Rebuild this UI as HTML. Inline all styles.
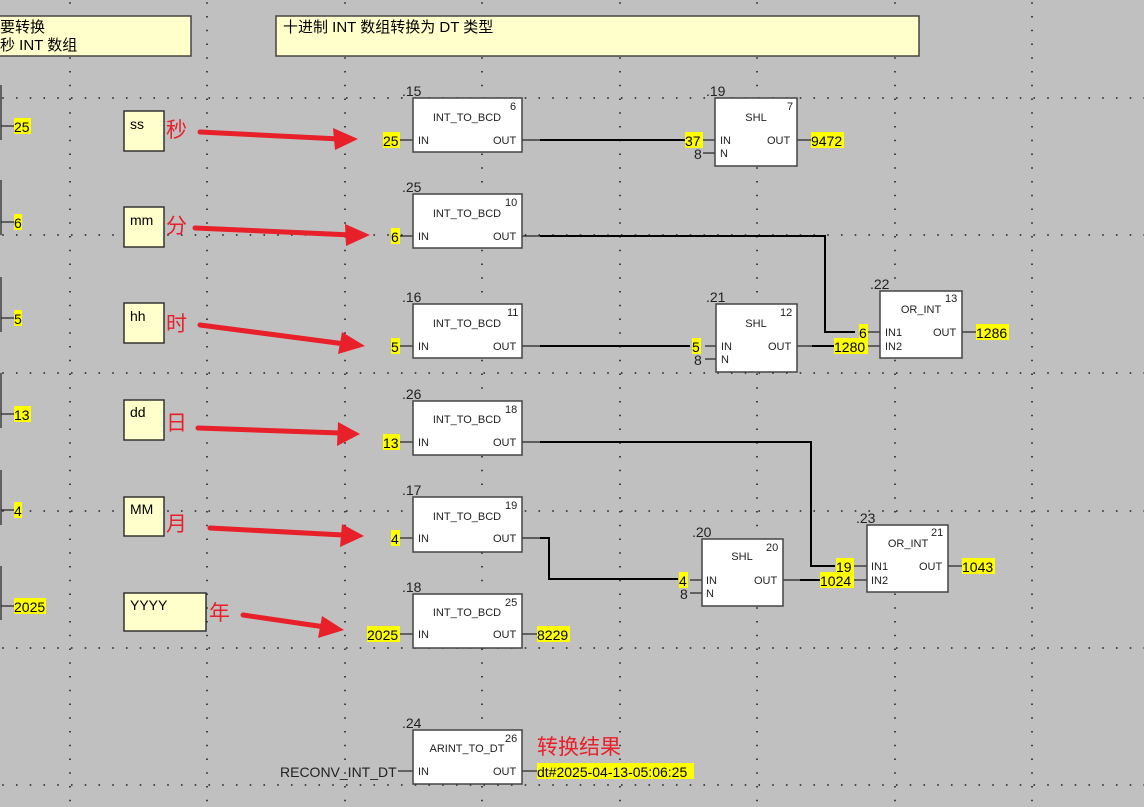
<!DOCTYPE html>
<html><head><meta charset="utf-8"><style>
html,body{margin:0;padding:0;background:#c0c0c0;}
svg{display:block;}
text{font-family:"Liberation Sans","Noto Sans CJK SC",sans-serif;}
</style></head><body>
<svg width="1144" height="807" viewBox="0 0 1144 807" xmlns="http://www.w3.org/2000/svg">
<rect width="1144" height="807" fill="#c0c0c0"/>
<g stroke="#222" stroke-width="1.6" stroke-dasharray="1.6 12.15">
<line x1="70" y1="2.2" x2="70" y2="807"/><line x1="207" y1="2.2" x2="207" y2="807"/>
<line x1="345" y1="2.2" x2="345" y2="807"/><line x1="482" y1="2.2" x2="482" y2="807"/>
<line x1="620" y1="2.2" x2="620" y2="807"/><line x1="757" y1="2.2" x2="757" y2="807"/>
<line x1="895" y1="2.2" x2="895" y2="807"/><line x1="1032" y1="2.2" x2="1032" y2="807"/>
</g>
<g stroke="#222" stroke-width="1.6" stroke-dasharray="1.6 12.15">
<line x1="2.2" y1="98" x2="1144" y2="98"/><line x1="2.2" y1="235" x2="1144" y2="235"/>
<line x1="2.2" y1="373" x2="1144" y2="373"/><line x1="2.2" y1="511" x2="1144" y2="511"/>
<line x1="2.2" y1="648" x2="1144" y2="648"/><line x1="2.2" y1="785" x2="1144" y2="785"/>
</g>
<!-- notes -->
<rect x="-2" y="16" width="193" height="40" fill="#ffffcc" stroke="#444" stroke-width="1.5"/>
<text x="0" y="32" font-size="15">要转换</text>
<text x="0" y="50" font-size="15">秒 INT 数组</text>
<rect x="276" y="16" width="643" height="40" fill="#ffffcc" stroke="#444" stroke-width="1.5"/>
<text x="283" y="32" font-size="15">十进制 INT 数组转换为 DT 类型</text>
<!-- left side values -->
<g stroke="#222" stroke-width="1.2">
<line x1="1" y1="85" x2="1" y2="140"/><line x1="1" y1="180" x2="1" y2="235"/>
<line x1="1" y1="277" x2="1" y2="332"/><line x1="1" y1="373" x2="1" y2="428"/>
<line x1="1" y1="470" x2="1" y2="525"/><line x1="1" y1="566" x2="1" y2="620"/>
<line x1="1" y1="126" x2="14" y2="126"/><line x1="1" y1="222" x2="14" y2="222"/>
<line x1="1" y1="318" x2="14" y2="318"/><line x1="1" y1="414" x2="14" y2="414"/>
<line x1="1" y1="510" x2="14" y2="510"/><line x1="1" y1="606" x2="14" y2="606"/>
</g>
<g font-size="14">
<rect x="14" y="118" width="17" height="16" fill="#ffff00"/><text x="14" y="132">25</text>
<rect x="14" y="214" width="8" height="16" fill="#ffff00"/><text x="14" y="228">6</text>
<rect x="14" y="310" width="8" height="16" fill="#ffff00"/><text x="14" y="324">5</text>
<rect x="14" y="406" width="17" height="16" fill="#ffff00"/><text x="14" y="420">13</text>
<rect x="14" y="502" width="8" height="16" fill="#ffff00"/><text x="14" y="516">4</text>
<rect x="14" y="598" width="32" height="16" fill="#ffff00"/><text x="14" y="612">2025</text>
</g>
<!-- variable boxes -->
<g fill="#ffffcc" stroke="#333" stroke-width="1.5">
<rect x="124" y="111" width="40" height="40"/><rect x="124" y="207" width="40" height="40"/>
<rect x="124" y="303" width="40" height="40"/><rect x="124" y="400" width="40" height="40"/>
<rect x="124" y="497" width="40" height="39"/><rect x="124" y="593" width="82" height="38"/>
</g>
<g font-size="14">
<text x="130" y="129">ss</text><text x="130" y="225">mm</text><text x="130" y="321">hh</text>
<text x="130" y="417">dd</text><text x="130" y="514">MM</text><text x="130" y="610">YYYY</text>
</g>
<g font-size="21" fill="#e8202a">
<text x="166" y="137">秒</text><text x="166" y="233">分</text><text x="166" y="331">时</text>
<text x="166" y="430">日</text><text x="166" y="531">月</text><text x="209" y="620">年</text>
</g>
<!-- red arrows -->
<g stroke="#e8202a" stroke-width="5" stroke-linecap="round" fill="none">
<line x1="200" y1="132" x2="340" y2="139"/>
<line x1="195" y1="228" x2="352" y2="235"/>
<line x1="200" y1="325" x2="345" y2="344"/>
<line x1="198" y1="428" x2="340" y2="433"/>
<line x1="210" y1="528" x2="343" y2="535"/>
<line x1="243" y1="615" x2="325" y2="627"/>
</g>
<g fill="#e8202a">
<polygon points="358,139 333,128 335,150"/>
<polygon points="370,235 345,224 346,246"/>
<polygon points="365,346 342,332 338,354"/>
<polygon points="360,434 338,422 337,446"/>
<polygon points="364,536 342,524 340,547"/>
<polygon points="344,630 322,616 318,638"/>
</g>
<!-- wires -->
<g stroke="#000" stroke-width="2" fill="none">
<line x1="540" y1="140" x2="685" y2="140"/>
<polyline points="540,236 825,236 825,332 855,332"/>
<line x1="540" y1="346" x2="690" y2="346"/>
<line x1="812" y1="346" x2="835" y2="346"/>
<polyline points="540,442 811,442 811,566 835,566"/>
<polyline points="540,538 549,538 549,579 678,579"/>
<line x1="800" y1="580" x2="820" y2="580"/>
</g>
<g stroke="#222" stroke-width="1.2">
<line x1="400" y1="140" x2="413" y2="140"/><line x1="522" y1="140" x2="540" y2="140"/>
<line x1="400" y1="236" x2="413" y2="236"/><line x1="522" y1="236" x2="540" y2="236"/>
<line x1="400" y1="346" x2="413" y2="346"/><line x1="522" y1="346" x2="540" y2="346"/>
<line x1="400" y1="442" x2="413" y2="442"/><line x1="522" y1="442" x2="540" y2="442"/>
<line x1="400" y1="538" x2="413" y2="538"/><line x1="522" y1="538" x2="540" y2="538"/>
<line x1="400" y1="634" x2="413" y2="634"/><line x1="522" y1="634" x2="537" y2="634"/>
<line x1="398" y1="771" x2="413" y2="771"/><line x1="522" y1="771" x2="537" y2="771"/>
<line x1="703" y1="140" x2="715" y2="140"/><line x1="703" y1="153" x2="715" y2="153"/><line x1="797" y1="140" x2="811" y2="140"/>
<line x1="705" y1="346" x2="716" y2="346"/><line x1="705" y1="359" x2="716" y2="359"/><line x1="797" y1="346" x2="812" y2="346"/>
<line x1="868" y1="332" x2="880" y2="332"/><line x1="868" y1="346" x2="880" y2="346"/><line x1="962" y1="332" x2="976" y2="332"/>
<line x1="690" y1="580" x2="702" y2="580"/><line x1="690" y1="593" x2="702" y2="593"/><line x1="783" y1="580" x2="800" y2="580"/>
<line x1="854" y1="566" x2="867" y2="566"/><line x1="854" y1="580" x2="867" y2="580"/><line x1="948" y1="566" x2="962" y2="566"/>
</g>
<!-- blocks -->
<g fill="#fff" stroke="#444" stroke-width="1.5">
<rect x="413" y="98" width="109" height="54"/><rect x="413" y="194" width="109" height="54"/>
<rect x="413" y="304" width="109" height="54"/><rect x="413" y="401" width="109" height="54"/>
<rect x="413" y="497" width="109" height="55"/><rect x="413" y="594" width="109" height="54"/>
<rect x="413" y="730" width="109" height="54"/>
<rect x="715" y="98" width="82" height="68"/><rect x="716" y="304" width="81" height="68"/>
<rect x="702" y="539" width="81" height="67"/>
<rect x="880" y="291" width="82" height="67"/><rect x="867" y="525" width="81" height="67"/>
</g>
<g font-size="11" fill="#222">
<text x="467" y="121" text-anchor="middle">INT_TO_BCD</text><text x="510" y="110">6</text><text x="418" y="144">IN</text><text x="493" y="144">OUT</text>
<text x="467" y="217" text-anchor="middle">INT_TO_BCD</text><text x="505" y="206">10</text><text x="418" y="240">IN</text><text x="493" y="240">OUT</text>
<text x="467" y="327" text-anchor="middle">INT_TO_BCD</text><text x="507" y="316">11</text><text x="418" y="350">IN</text><text x="493" y="350">OUT</text>
<text x="467" y="423" text-anchor="middle">INT_TO_BCD</text><text x="505" y="413">18</text><text x="418" y="446">IN</text><text x="493" y="446">OUT</text>
<text x="467" y="520" text-anchor="middle">INT_TO_BCD</text><text x="505" y="509">19</text><text x="418" y="542">IN</text><text x="493" y="542">OUT</text>
<text x="467" y="616" text-anchor="middle">INT_TO_BCD</text><text x="505" y="606">25</text><text x="418" y="638">IN</text><text x="493" y="638">OUT</text>
<text x="467" y="752" text-anchor="middle">ARINT_TO_DT</text><text x="505" y="742">26</text><text x="418" y="775">IN</text><text x="493" y="775">OUT</text>
<text x="756" y="121" text-anchor="middle">SHL</text><text x="787" y="110">7</text><text x="720" y="144">IN</text><text x="767" y="144">OUT</text><text x="720" y="157">N</text>
<text x="756" y="327" text-anchor="middle">SHL</text><text x="780" y="316">12</text><text x="721" y="350">IN</text><text x="768" y="350">OUT</text><text x="721" y="363">N</text>
<text x="742" y="560" text-anchor="middle">SHL</text><text x="766" y="551">20</text><text x="706" y="584">IN</text><text x="754" y="584">OUT</text><text x="706" y="597">N</text>
<text x="921" y="313" text-anchor="middle">OR_INT</text><text x="945" y="302">13</text><text x="885" y="336">IN1</text><text x="933" y="336">OUT</text><text x="885" y="350">IN2</text>
<text x="908" y="547" text-anchor="middle">OR_INT</text><text x="931" y="536">21</text><text x="871" y="570">IN1</text><text x="919" y="570">OUT</text><text x="871" y="584">IN2</text>
</g>
<g font-size="14" fill="#222">
<text x="402" y="96">.15</text><text x="402" y="192">.25</text><text x="402" y="302">.16</text>
<text x="402" y="399">.26</text><text x="402" y="495">.17</text><text x="402" y="592">.18</text>
<text x="402" y="728">.24</text><text x="706" y="96">.19</text><text x="706" y="302">.21</text>
<text x="692" y="537">.20</text><text x="870" y="289">.22</text><text x="856" y="523">.23</text>
<text x="694" y="159">8</text><text x="694" y="365">8</text><text x="680" y="599">8</text>
<text x="280" y="777">RECONV_INT_DT</text>
</g>
<!-- highlighted values -->
<g font-size="14">
<rect x="383" y="132" width="17" height="16" fill="#ff0"/><text x="383" y="146">25</text>
<rect x="391" y="228" width="9" height="16" fill="#ff0"/><text x="391" y="242">6</text>
<rect x="391" y="338" width="9" height="16" fill="#ff0"/><text x="391" y="352">5</text>
<rect x="383" y="434" width="17" height="16" fill="#ff0"/><text x="383" y="448">13</text>
<rect x="391" y="530" width="9" height="16" fill="#ff0"/><text x="391" y="544">4</text>
<rect x="367" y="626" width="33" height="16" fill="#ff0"/><text x="367" y="640">2025</text>
<rect x="537" y="626" width="33" height="16" fill="#ff0"/><text x="537" y="640">8229</text>
<rect x="685" y="132" width="18" height="16" fill="#ff0"/><text x="685" y="146">37</text>
<rect x="811" y="132" width="33" height="16" fill="#ff0"/><text x="811" y="146">9472</text>
<rect x="692" y="338" width="9" height="16" fill="#ff0"/><text x="692" y="352">5</text>
<rect x="834" y="338" width="34" height="16" fill="#ff0"/><text x="834" y="352">1280</text>
<rect x="859" y="324" width="9" height="16" fill="#ff0"/><text x="859" y="338">6</text>
<rect x="976" y="324" width="33" height="16" fill="#ff0"/><text x="976" y="338">1286</text>
<rect x="679" y="572" width="9" height="16" fill="#ff0"/><text x="679" y="586">4</text>
<rect x="820" y="572" width="34" height="16" fill="#ff0"/><text x="820" y="586">1024</text>
<rect x="836" y="558" width="18" height="16" fill="#ff0"/><text x="836" y="572">19</text>
<rect x="962" y="558" width="33" height="16" fill="#ff0"/><text x="962" y="572">1043</text>
<rect x="537" y="763" width="157" height="16" fill="#ff0"/><text x="537" y="777">dt#2025-04-13-05:06:25</text>
</g>
<text x="537" y="754" font-size="21" fill="#e8202a">转换结果</text>
</svg>
</body></html>
